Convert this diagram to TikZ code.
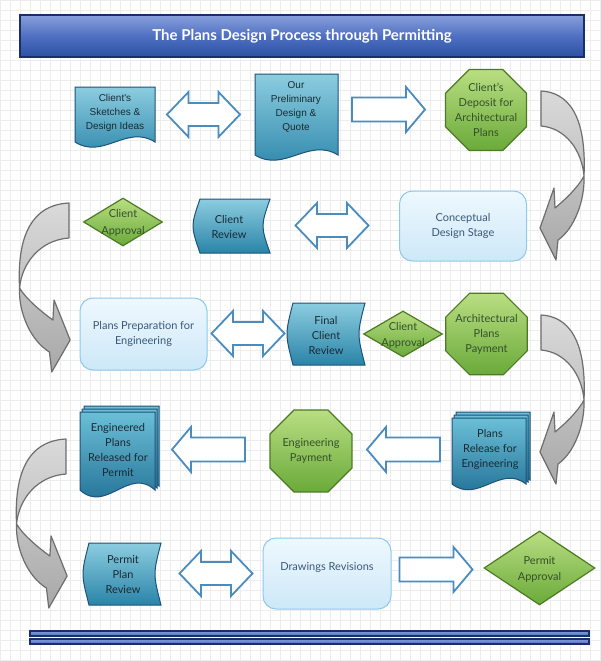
\documentclass[tikz,border=0pt]{standalone}
\usepackage{fontspec}
\setmainfont{Lato}
\newfontfamily\arialf{Liberation Sans}
\usetikzlibrary{shapes.geometric}
\definecolor{tealtop}{HTML}{8CCDE0}
\definecolor{tealbot}{HTML}{2A84A8}
\definecolor{tealdraw}{HTML}{1D5279}
\definecolor{mdtop}{HTML}{6CBFD7}
\definecolor{mdbot}{HTML}{19698F}
\definecolor{grtop}{HTML}{B9DE82}
\definecolor{grbot}{HTML}{6AAA3A}
\definecolor{grdraw}{HTML}{4C7A22}
\definecolor{grtext}{HTML}{34502A}
\definecolor{lbtop}{HTML}{EEF8FE}
\definecolor{lbbot}{HTML}{CDE8F8}
\definecolor{lbdraw}{HTML}{8DC9EB}
\definecolor{lbtext}{HTML}{3A5878}
\definecolor{arrblue}{HTML}{4A8CBE}
\definecolor{cvtop}{HTML}{DADADA}
\definecolor{cvbot}{HTML}{A8A8A8}
\definecolor{cvdraw}{HTML}{6E6E6E}
\definecolor{titletop}{HTML}{889FDA}
\definecolor{titlemid}{HTML}{4F70C2}
\definecolor{titlebot}{HTML}{2C50A3}
\definecolor{titledraw}{HTML}{1A2E6A}
\definecolor{gridc}{HTML}{EDEDED}
\definecolor{doctext}{HTML}{1B2A33}
\newcommand\lt{\fontsize{11}{15}\selectfont}
% document shape: x1 y1 x2 ybottom waveamp
\newcommand\docpath[5]{(#1,#2) -- (#3,#2) -- (#3,#4) .. controls ({#3-0.35*(#3-#1)},{#4-#5}) and ({#1+0.35*(#3-#1)},{#4+#5}) .. (#1,#4) -- cycle}
% stored data shape: x1 y1 x2 y2 bulge
\newcommand\storepath[5]{(#1,#2) -- (#3,#2) .. controls ({#3-1.33*#5},{(#2+#4)/2}) .. (#3,#4) -- (#1,#4) .. controls ({#1-1.33*#5},{(#2+#4)/2}) .. (#1,#2) -- cycle}
\tikzset{
 tealshape/.style={draw=tealdraw, line width=1pt, top color=tealtop, bottom color=tealbot},
 mdshape/.style={draw=tealdraw, line width=1pt, top color=mdtop, bottom color=mdbot},
 greenshape/.style={draw=grdraw, line width=1.2pt, top color=grtop, bottom color=grbot},
 lbbox/.style={draw=lbdraw, line width=1pt, top color=lbtop, bottom color=lbbot, rounded corners=13pt, inner sep=0pt, align=center, text=lbtext, font=\lt},
 txt/.style={align=center, inner sep=0pt, font=\lt, text=doctext},
 atxt/.style={align=center, inner sep=0pt, font=\arialf\fontsize{10}{14}\selectfont, text=doctext},
 gtxt/.style={align=center, inner sep=0pt, font=\lt, text=grtext},
 btxt/.style={align=center, inner sep=0pt, font=\lt, text=lbtext},
 blockarrow/.style={draw=arrblue, line width=1.8pt, fill=white, line join=miter},
 curvestyle/.style={draw=cvdraw, line width=1.2pt, top color=cvtop, bottom color=cvbot, line join=round},
 oct/.style={greenshape, regular polygon, regular polygon sides=8, inner sep=0pt},
 dia/.style={greenshape, diamond, inner sep=0pt},
 titlebox/.style={draw=titledraw, line width=1.5pt, top color=titletop, bottom color=titlebot, middle color=titlemid, text=white, font=\fontsize{15}{18}\selectfont\bfseries, inner sep=0pt},
 barstyle/.style={draw=titledraw, line width=1.5pt, top color=titlemid!70!white, bottom color=titlemid},
 rarr/.pic={\path[blockarrow] (-36.5,-12) -- (17.5,-12) -- (17.5,-22.5) -- (36.5,0) -- (17.5,22.5) -- (17.5,12) -- (-36.5,12) -- cycle;},
 darr/.pic={\path[blockarrow] (-36.5,0) -- (-15,-22.5) -- (-15,-11.5) -- (15,-11.5) -- (15,-22.5) -- (36.5,0) -- (15,22.5) -- (15,11.5) -- (-15,11.5) -- (-15,22.5) -- cycle;},
 curvarr/.pic={\path[curvestyle] (0,0) .. controls (36,2) and (45,40) .. (43,85)
   .. controls (44,110) and (33,138) .. (17,149) -- (15,169) -- (-1,137) -- (13,97) -- (14,117)
   .. controls (25,108) and (38,95) .. (43,85)
   .. controls (41,60) and (25,37) .. (0,35) -- cycle;},
}
\begin{document}
\begin{tikzpicture}[x=1pt,y=-1pt]
\useasboundingbox (0,0) rectangle (600,661);
\fill[white] (0,0) rectangle (600,661);
\foreach \gx in {0,10,...,600} \draw[gridc,line width=0.5pt] (\gx,0) -- (\gx,661);
\foreach \gy in {0,10,...,660} \draw[gridc,line width=0.5pt] (0,\gy) -- (600,\gy);

% title
\node[titlebox, minimum width=564, minimum height=42] (title) at (302,36) {The Plans Design Process through Permitting};

% row 1
\path[tealshape] \docpath{75}{87}{155}{142}{18};
\node[atxt] (sketch) at (115,113) {Client's\\Sketches \&\\Design Ideas};
\path[tealshape] \docpath{255}{74}{338}{155}{18};
\node[atxt] (prelim) at (296,107) {Our\\Preliminary\\Design \&\\Quote};
\pic at (203.5,114.5) {darr};
\pic at (388.5,109.5) {rarr};
\node[oct, minimum size=87.7] (deposit) at (486,110) {};
\node[gtxt] (depositt) at (deposit) {Client's\\Deposit for\\Architectural\\Plans};
\pic at (541,91) {curvarr};

% row 2
\pic[xscale=-1.15] at (69,203) {curvarr};
\node[dia, minimum width=79, minimum height=48] (appr1) at (123,222) {};
\node[gtxt, font=\fontsize{11}{16.5}\selectfont] (appr1t) at (123,223) {Client\\Approval};
\path[tealshape] \storepath{200}{199}{270}{253}{7};
\node[txt] (review) at (229,226.5) {Client\\Review};
\pic at (332,225.5) {darr};
\node[lbbox, minimum width=127, minimum height=70] (concept) at (463,226) {Conceptual\\Design Stage};

% row 3
\node[lbbox, minimum width=127, minimum height=72] (prep) at (143.5,334) {Plans Preparation for\\Engineering};
\pic at (248,333.5) {darr};
\path[tealshape] \storepath{293}{303}{365}{365}{6};
\node[txt] (final) at (326,335) {Final\\Client\\Review};
\node[dia, minimum width=79, minimum height=46] (appr2) at (403,334) {};
\node[gtxt, font=\fontsize{11}{16}\selectfont] (appr2t) at (403,335) {Client\\Approval};
\node[oct, minimum size=88.2] (archpay) at (486.5,334) {};
\node[gtxt] (archpayt) at (archpay) {Architectural\\Plans\\Payment};
\pic at (541,315) {curvarr};

% row 4
\path[mdshape] \docpath{456}{412}{530}{480}{20};
\path[mdshape] \docpath{454}{415}{528}{482}{20};
\path[mdshape] \docpath{452}{418}{526}{484}{20};
\node[txt] (release) at (490,449) {Plans\\Release for\\Engineering};
\pic[xscale=-1] at (403.5,449.5) {rarr};
\node[oct, minimum size=88.7] (engpay) at (311,451) {};
\node[gtxt] (engpayt) at (engpay) {Engineering\\Payment};
\pic[xscale=-1] at (208.5,449.5) {rarr};
\path[mdshape] \docpath{84}{406}{159}{486}{24};
\path[mdshape] \docpath{82}{409}{157}{488}{24};
\path[mdshape] \docpath{80}{412}{155}{490}{24};
\node[txt] (engineered) at (118,450) {Engineered\\Plans\\Released for\\Permit};
\pic[xscale=-1.15] at (66,439) {curvarr};

% row 5
\path[tealshape] \storepath{89}{543}{161}{605}{6};
\node[txt] (permitrev) at (123,575) {Permit\\Plan\\Review};
\pic at (216,573.5) {darr};
\node[lbbox, minimum width=128, minimum height=71] (revisions) at (327,573.5) {};
\node[btxt] (revisionst) at (327,567) {Drawings Revisions};
\pic at (436,569.5) {rarr};
\node[dia, minimum width=111, minimum height=74] (permitappr) at (539.5,568) {};
\node[gtxt, font=\fontsize{11}{16}\selectfont] (permitapprt) at (539.5,569) {Permit\\Approval};

% bottom bars
\path[barstyle] (30,631) rectangle (589,636);
\path[barstyle] (30,639) rectangle (589,644);
\end{tikzpicture}
\end{document}
